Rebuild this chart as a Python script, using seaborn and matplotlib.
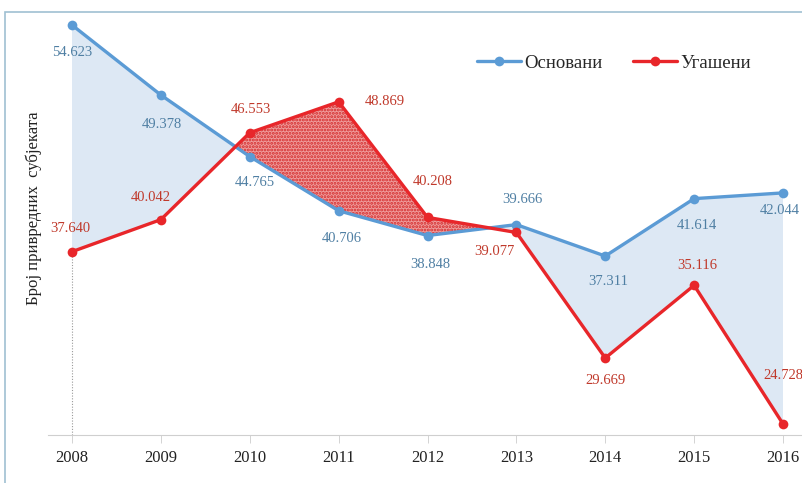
import matplotlib
matplotlib.use("Agg")
import matplotlib.pyplot as plt
import seaborn as sns
import numpy as np
import pandas as pd
from matplotlib.patches import Rectangle
from matplotlib.lines import Line2D

years = [2008, 2009, 2010, 2011, 2012, 2013, 2014, 2015, 2016]
osnovani = [54.623, 49.378, 44.765, 40.706, 38.848, 39.666, 37.311, 41.614, 42.044]
ugaseni = [37.640, 40.042, 46.553, 48.869, 40.208, 39.077, 29.669, 35.116, 24.728]
series_names = ["Основани", "Угашени"]
ylabel = "Број привредних  субјеката"

sns.set_theme(style="white")
plt.rcParams['font.family'] = ['Liberation Serif', 'DejaVu Serif']
plt.rcParams['hatch.linewidth'] = 1.4

BLUE = "#5b9bd5"
RED = "#e8262a"
BLUE_TXT = "#4f7fa3"
RED_TXT = "#c0392b"

df = pd.DataFrame({
    "year": years * 2,
    "value": osnovani + ugaseni,
    "series": [series_names[0]] * len(years) + [series_names[1]] * len(years),
})

fig = plt.figure(figsize=(8.03, 4.83), dpi=100)
ax = fig.add_axes([48 / 803, (483 - 435) / 483, (803 - 48) / 803, (435 - 12) / 483])

x = np.array(years, dtype=float)
a = np.array(osnovani)
b = np.array(ugaseni)
ax.fill_between(x, a, b, where=a >= b, interpolate=True, color="#dde8f4", linewidth=0, zorder=1)
ax.fill_between(x, a, b, where=b >= a, interpolate=True, facecolor="#ef9c9c",
                edgecolor="#d42a2a", hatch=".....", linewidth=0, zorder=1)

ax.set_xlim(2008 - 24 / 88.875, 2016 + 20 / 88.875)
ax.set_ylim(23.90, 55.60)

ax.vlines(years[0], ax.get_ylim()[0], ugaseni[0], colors="#9a9a9a", linestyles=(0, (1, 1.5)), linewidth=0.8, zorder=2)

sns.lineplot(data=df, x="year", y="value", hue="series", palette=[BLUE, RED],
             marker="o", markersize=7, markeredgewidth=0, linewidth=2.4, ax=ax,
             legend=False, zorder=3)

# value labels (offsets in points)
off_o = [(0, -20), (1, -21), (4, -19), (2, -20), (2, -21), (4, 18), (2, -18), (2, -19), (-2, -13)]
off_u = [(-1, 17), (-7, 16), (1, 17), (33, 0), (4, 26), (-16, -14), (0, -16), (2, 14), (0, 35)]
for xi, v, (dx, dy) in zip(years, osnovani, off_o):
    ax.annotate(f"{v:.3f}", (xi, v), xytext=(dx, dy), textcoords="offset points",
                ha="center", va="center", fontsize=10.5, color=BLUE_TXT, zorder=5)
for xi, v, (dx, dy) in zip(years, ugaseni, off_u):
    ax.annotate(f"{v:.3f}", (xi, v), xytext=(dx, dy), textcoords="offset points",
                ha="center", va="center", fontsize=10.5, color=RED_TXT, zorder=5)

ax.set_xticks(years)
ax.set_xticklabels([str(y) for y in years], fontsize=12, color="#222222")
ax.tick_params(axis="x", length=6, width=0.6, color="#cccccc", pad=5, bottom=True)
ax.set_yticks([])
ax.set_xlabel("")
ax.set_ylabel("")
for s in ["top", "right", "left"]:
    ax.spines[s].set_visible(False)
ax.spines["bottom"].set_color("#cfcfcf")
ax.spines["bottom"].set_linewidth(0.8)

fig.text(34 / 803, 1 - 208 / 483, ylabel, rotation=90, ha="center", va="center",
         fontsize=12, color="#222222")

handles = [Line2D([0], [0], color=BLUE, lw=2.4, marker="o", markersize=7, markeredgewidth=0),
           Line2D([0], [0], color=RED, lw=2.4, marker="o", markersize=7, markeredgewidth=0)]
fig.legend(handles, series_names, loc="center", bbox_to_anchor=(614 / 803, 1 - 63 / 483),
           ncol=2, frameon=False, fontsize=13.5, handlelength=2.35, handletextpad=0.18,
           columnspacing=1.6)

fig.patches.append(Rectangle((5 / 803, -0.1), 1.2, 1.1 - 12 / 483, transform=fig.transFigure,
                             fill=False, edgecolor="#9fc0d2", linewidth=1.2, zorder=0))

fig.savefig("out.png", dpi=100)
